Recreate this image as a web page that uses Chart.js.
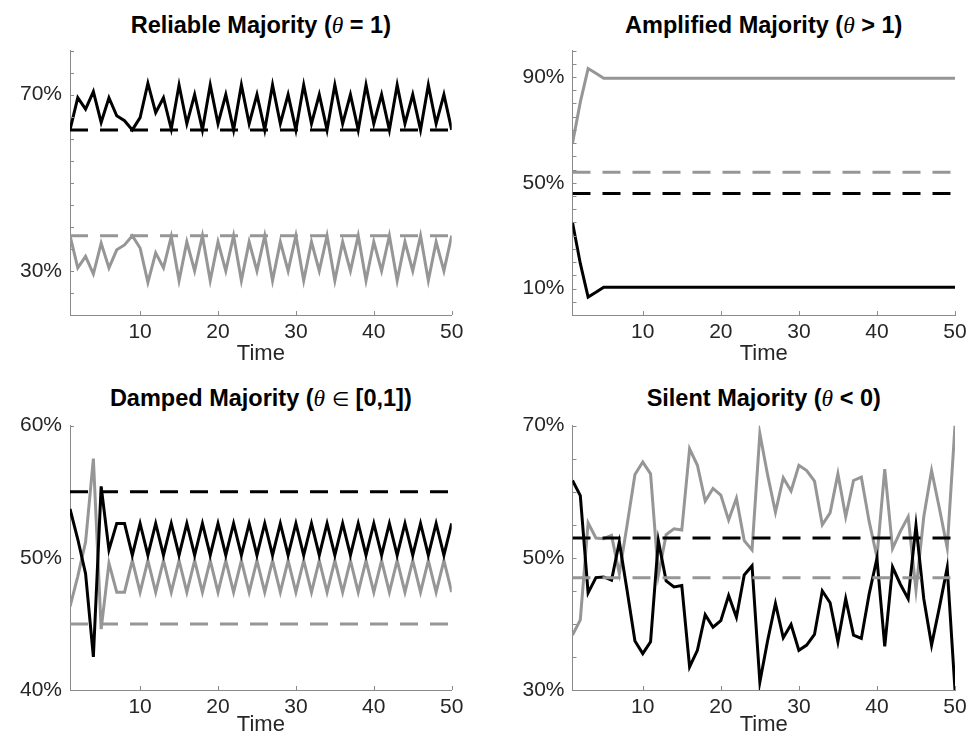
<!DOCTYPE html>
<html>
<head>
<meta charset="utf-8">
<title>Majority dynamics</title>
<script src="https://cdn.jsdelivr.net/npm/chart.js@4.4.0/dist/chart.umd.min.js"></script>
<style>
  html, body { margin: 0; padding: 0; background: #fff; }
  #page { position: relative; width: 977px; height: 740px; overflow: hidden; font-family: 'Liberation Sans', Arial, Helvetica, sans-serif; }
  .panel { position: absolute; }
  .panel-title { position: absolute; width: 500px; text-align: center; font-weight: bold; font-size: 23.5px; line-height: 24px; color: #000; white-space: nowrap; }
  .panel-title .sym { font-family: 'Liberation Serif', 'DejaVu Serif', serif; font-style: italic; font-weight: normal; }
  .panel-title .op { font-family: 'DejaVu Sans', sans-serif; font-weight: normal; font-size: 20px; }
</style>
</head>
<body>
<div id="page">
  <div class="panel-title" id="title-reliable">Reliable Majority (<span class="sym">θ</span> = 1)</div>
  <div class="panel-title" id="title-amplified">Amplified Majority (<span class="sym">θ</span> &gt; 1)</div>
  <div class="panel-title" id="title-damped">Damped Majority (<span class="sym">θ</span> <span class="op">∈</span> [0,1])</div>
  <div class="panel-title" id="title-silent">Silent Majority (<span class="sym">θ</span> &lt; 0)</div>

  <div class="panel" id="box-reliable"><canvas id="reliableChart"></canvas></div>
  <div class="panel" id="box-amplified"><canvas id="amplifiedChart"></canvas></div>
  <div class="panel" id="box-damped"><canvas id="dampedChart"></canvas></div>
  <div class="panel" id="box-silent"><canvas id="silentChart"></canvas></div>
</div>

<script>
// ---- data ----
const timeSteps = Array.from({ length: 50 }, (_, i) => i + 1);
const xTickValues = [10, 20, 30, 40, 50];

// Reliable majority (theta = 1)
const reliableBlack = [
  62, 69.3, 66.7, 70.7, 63.7, 69.3, 65.2, 64.1, 62, 64.8,
  72.6, 65.9, 69.3, 62.2, 72.2, 63.4, 70, 62, 72.2, 63.4,
  70, 62, 72.2, 63.4, 70, 62, 72.2, 63.4, 70, 62,
  72.2, 63.4, 70, 62, 72.2, 63.4, 70, 62, 72.2, 63.4,
  70, 62, 72.2, 63.4, 70, 62, 72.2, 63.4, 70, 62
];
const reliableGray = [
  38, 30.7, 33.3, 29.3, 36.3, 30.7, 34.8, 35.9, 38, 35.2,
  27.4, 34.1, 30.7, 37.8, 27.8, 36.6, 30, 38, 27.8, 36.6,
  30, 38, 27.8, 36.6, 30, 38, 27.8, 36.6, 30, 38,
  27.8, 36.6, 30, 38, 27.8, 36.6, 30, 38, 27.8, 36.6,
  30, 38, 27.8, 36.6, 30, 38, 27.8, 36.6, 30, 38
];
const reliableBlackLevel = 62;
const reliableGrayLevel = 38;
const reliableYLabels = [30, 70];

// Amplified majority (theta > 1)
const amplifiedBlack = [
  35, 19.5, 6.8, 8.6, 10.5, 10.5, 10.5, 10.5, 10.5, 10.5,
  10.5, 10.5, 10.5, 10.5, 10.5, 10.5, 10.5, 10.5, 10.5, 10.5,
  10.5, 10.5, 10.5, 10.5, 10.5, 10.5, 10.5, 10.5, 10.5, 10.5,
  10.5, 10.5, 10.5, 10.5, 10.5, 10.5, 10.5, 10.5, 10.5, 10.5,
  10.5, 10.5, 10.5, 10.5, 10.5, 10.5, 10.5, 10.5, 10.5, 10.5
];
const amplifiedGray = [
  65, 80.5, 93.2, 91.4, 89.5, 89.5, 89.5, 89.5, 89.5, 89.5,
  89.5, 89.5, 89.5, 89.5, 89.5, 89.5, 89.5, 89.5, 89.5, 89.5,
  89.5, 89.5, 89.5, 89.5, 89.5, 89.5, 89.5, 89.5, 89.5, 89.5,
  89.5, 89.5, 89.5, 89.5, 89.5, 89.5, 89.5, 89.5, 89.5, 89.5,
  89.5, 89.5, 89.5, 89.5, 89.5, 89.5, 89.5, 89.5, 89.5, 89.5
];
const amplifiedBlackLevel = 46;
const amplifiedGrayLevel = 54;
const amplifiedYLabels = [10, 50, 90];

// Damped majority (theta in [0,1])
const dampedBlack = [
  53.7, 51.4, 48.8, 42.5, 55.4, 50.6, 52.6, 52.6, 50.2, 52.6,
  50.2, 52.6, 50.2, 52.6, 50.2, 52.6, 50.2, 52.6, 50.2, 52.6,
  50.2, 52.6, 50.2, 52.6, 50.2, 52.6, 50.2, 52.6, 50.2, 52.6,
  50.2, 52.6, 50.2, 52.6, 50.2, 52.6, 50.2, 52.6, 50.2, 52.6,
  50.2, 52.6, 50.2, 52.6, 50.2, 52.6, 50.2, 52.6, 50.2, 52.6
];
const dampedGray = [
  46.3, 48.6, 51.2, 57.5, 44.6, 49.6, 47.4, 47.4, 49.8, 47.4,
  49.8, 47.4, 49.8, 47.4, 49.8, 47.4, 49.8, 47.4, 49.8, 47.4,
  49.8, 47.4, 49.8, 47.4, 49.8, 47.4, 49.8, 47.4, 49.8, 47.4,
  49.8, 47.4, 49.8, 47.4, 49.8, 47.4, 49.8, 47.4, 49.8, 47.4,
  49.8, 47.4, 49.8, 47.4, 49.8, 47.4, 49.8, 47.4, 49.8, 47.4
];
const dampedBlackLevel = 55;
const dampedGrayLevel = 45;
const dampedYLabels = [40, 50, 60];

// Silent majority (theta < 0)
const silentBlack = [
  61.7, 59.4, 44.7, 47.0, 47.1, 46.6, 52.4, 45.0, 37.4, 35.5,
  37.3, 52.6, 46.5, 45.6, 45.8, 33.5, 36.0, 41.4, 39.5, 40.5,
  44.3, 41.0, 47.4, 48.8, 31.2, 37.5, 43.1, 37.9, 39.9, 36.0,
  36.8, 38.4, 45.0, 43.2, 37.3, 43.8, 38.3, 37.8, 44.5, 49.9,
  36.6, 48.6, 46.0, 43.8, 54.9, 43.8, 36.8, 42.5, 48.5, 30.0
];
const silentGray = [
  38.3, 40.6, 55.3, 53.0, 52.9, 53.4, 47.6, 55.0, 62.6, 64.5,
  62.7, 47.4, 53.5, 54.4, 54.2, 66.5, 64.0, 58.6, 60.5, 59.5,
  55.7, 59.0, 52.6, 51.2, 68.8, 62.5, 56.9, 62.1, 60.1, 64.0,
  63.2, 61.6, 55.0, 56.8, 62.7, 56.2, 61.7, 62.2, 55.5, 50.1,
  63.4, 51.4, 54.0, 56.2, 45.1, 56.2, 63.2, 57.5, 51.5, 70.0
];
const silentBlackLevel = 53;
const silentGrayLevel = 47;
const silentYLabels = [30, 50, 70];

// ---- styling / layout ----
const BLACK = '#000000';
const GRAY = '#969696';
const AXIS = '#8a8a8a';
const TICK_TEXT = '#262626';

Chart.defaults.font.family = "'Liberation Sans', Arial, Helvetica, sans-serif";

// draws short MATLAB style ticks pointing into the plot area
const innerTicksPlugin = {
  id: 'innerTicks',
  afterDatasetsDraw(chart) {
    const { ctx, chartArea, scales } = chart;
    const len = 4;
    ctx.save();
    ctx.strokeStyle = AXIS;
    ctx.lineWidth = 1;
    ctx.beginPath();
    scales.x.ticks.forEach(t => {
      const px = Math.round(scales.x.getPixelForValue(t.value)) + 0.5;
      ctx.moveTo(px, chartArea.bottom);
      ctx.lineTo(px, chartArea.bottom - len);
    });
    scales.y.ticks.forEach(t => {
      const py = Math.round(scales.y.getPixelForValue(t.value)) + 0.5;
      ctx.moveTo(chartArea.left, py);
      ctx.lineTo(chartArea.left + len, py);
    });
    ctx.stroke();
    ctx.restore();
  }
};

function toPoints(values) {
  return values.map((v, i) => ({ x: timeSteps[i], y: v }));
}

function levelLine(level) {
  return [
    { x: timeSteps[0], y: level },
    { x: timeSteps[timeSteps.length - 1], y: level }
  ];
}

/**
 * Build one panel chart
 */
function createPanel(canvasId, box, series, yRange) {
  const wrapper = document.getElementById('box-' + box.key);
  wrapper.style.left = box.left + 'px';
  wrapper.style.top = box.top + 'px';
  const canvas = document.getElementById(canvasId);
  canvas.width = box.width;
  canvas.height = box.height;

  const title = document.getElementById('title-' + box.key);
  const centerX = box.left + box.yAxisWidth + (box.width - box.yAxisWidth - box.padRight) / 2;
  title.style.left = (centerX - 250) + 'px';
  title.style.top = box.titleTop + 'px';

  return new Chart(canvas, {
    type: 'line',
    data: {
      datasets: [
        { data: levelLine(series.blackLevel), borderColor: BLACK, borderWidth: 3, borderDash: [18, 12], order: 0 },
        { data: levelLine(series.grayLevel), borderColor: GRAY, borderWidth: 3, borderDash: [18, 12], order: 0 },
        { data: toPoints(series.black), borderColor: BLACK, borderWidth: 3, order: 1 },
        { data: toPoints(series.gray), borderColor: GRAY, borderWidth: 3, order: 1 }
      ]
    },
    options: {
      responsive: false,
      animation: false,
      events: [],
      layout: { padding: { top: box.padTop, right: box.padRight, left: 0, bottom: 0 } },
      elements: {
        point: { radius: 0 },
        line: { tension: 0, borderJoinStyle: 'miter', fill: false }
      },
      plugins: {
        legend: { display: false },
        tooltip: { enabled: false }
      },
      scales: {
        x: {
          type: 'linear',
          min: 1,
          max: 50,
          afterBuildTicks: scale => { scale.ticks = xTickValues.map(v => ({ value: v })); },
          afterFit: scale => { scale.height = box.xAxisHeight; },
          grid: { display: false, drawTicks: false },
          border: { display: true, color: AXIS, width: 1 },
          ticks: { color: TICK_TEXT, font: { size: 21 }, padding: 5, autoSkip: false, maxRotation: 0 },
          title: { display: true, text: 'Time', color: TICK_TEXT, font: { size: 22 }, padding: { top: 0, bottom: box.timePad } }
        },
        y: {
          min: yRange.min,
          max: yRange.max,
          afterFit: scale => { scale.width = box.yAxisWidth; },
          grid: { display: false, drawTicks: false },
          border: { display: true, color: AXIS, width: 1 },
          ticks: {
            stepSize: yRange.step,
            maxTicksLimit: 100,
            autoSkip: false,
            color: TICK_TEXT,
            font: { size: 21 },
            padding: 8,
            callback: value => (series.yLabels.includes(value) ? value + '%' : '')
          }
        }
      }
    },
    plugins: [innerTicksPlugin]
  });
}

createPanel('reliableChart',
  { key: 'reliable', left: 0, top: 30, width: 475, height: 345, yAxisWidth: 70, padTop: 16.7, padRight: 23.3, xAxisHeight: 60, timePad: 8, titleTop: 13 },
  { black: reliableBlack, gray: reliableGray, blackLevel: reliableBlackLevel, grayLevel: reliableGrayLevel, yLabels: reliableYLabels },
  { min: 20, max: 80, step: 5 });

createPanel('amplifiedChart',
  { key: 'amplified', left: 488, top: 30, width: 489, height: 345, yAxisWidth: 84.5, padTop: 16.7, padRight: 22, xAxisHeight: 60, timePad: 8, titleTop: 13 },
  { black: amplifiedBlack, gray: amplifiedGray, blackLevel: amplifiedBlackLevel, grayLevel: amplifiedGrayLevel, yLabels: amplifiedYLabels },
  { min: 0, max: 100, step: 5 });

createPanel('dampedChart',
  { key: 'damped', left: 0, top: 405, width: 475, height: 335, yAxisWidth: 70, padTop: 15.7, padRight: 23.3, xAxisHeight: 50, timePad: 2, titleTop: 386 },
  { black: dampedBlack, gray: dampedGray, blackLevel: dampedBlackLevel, grayLevel: dampedGrayLevel, yLabels: dampedYLabels },
  { min: 40, max: 60, step: 10 });

createPanel('silentChart',
  { key: 'silent', left: 488, top: 405, width: 489, height: 335, yAxisWidth: 84.5, padTop: 15, padRight: 22, xAxisHeight: 50, timePad: 2, titleTop: 386 },
  { black: silentBlack, gray: silentGray, blackLevel: silentBlackLevel, grayLevel: silentGrayLevel, yLabels: silentYLabels },
  { min: 30, max: 70, step: 5 });
</script>
</body>
</html>
